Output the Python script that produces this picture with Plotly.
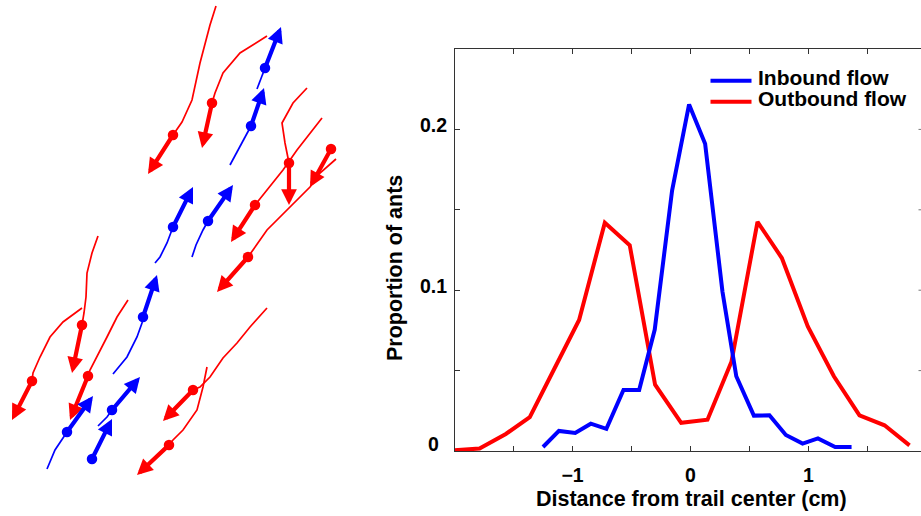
import plotly.graph_objects as go

# ---------------- right panel data: distribution across trail ----------------
inbound_x = [-1.25, -1.115, -0.977, -0.845, -0.713, -0.568, -0.435, -0.303, -0.156, -0.012,
             0.124, 0.271, 0.388, 0.537, 0.669, 0.808, 0.950, 1.080, 1.226, 1.365]
inbound_y = [0.0025, 0.0125, 0.0112, 0.0170, 0.0138, 0.0380, 0.0380, 0.0755, 0.1620, 0.2155,
             0.1910, 0.0990, 0.0465, 0.0220, 0.0222, 0.0100, 0.0046, 0.0078, 0.0025, 0.0025]

outbound_x = [-2.0, -1.788, -1.565, -1.362, -1.155, -0.944, -0.726, -0.515, -0.300, -0.079,
              0.144, 0.347, 0.568, 0.774, 0.994, 1.215, 1.432, 1.644, 1.856]
outbound_y = [0.0005, 0.0015, 0.0106, 0.0210, 0.0510, 0.0815, 0.1420, 0.1280, 0.0412, 0.0175,
              0.0195, 0.0555, 0.1425, 0.1200, 0.0775, 0.0465, 0.0222, 0.0160, 0.0035]

x_tickvals = [-1.5, -1, -0.5, 0, 0.5, 1, 1.5]
x_ticktext = ["", "\u22121", "", "0", "", "1", ""]
y_tickvals = [0, 0.05, 0.1, 0.15, 0.2]
y_ticktext = ["0", "", "0.1", "", "0.2"]

# ---------------- left panel data: ant tracks (arena frame) ----------------
# outbound ants (red): thin trail ending at body position (dot), velocity tip (arrow)
red_trail_x = [[216, 210, 200, 192, 182, 173], [267, 240, 223, 215, 212], [307, 293, 282, 285, 289],
               [322, 310, 297, 283, 267, 255], [331], [336, 320, 310, 300, 290, 267, 253, 248],
               [98, 92, 87, 86, 84, 82], [82, 63, 50, 40, 33, 32], [128, 117, 107, 97, 90, 88],
               [267, 250, 237, 223, 210, 200, 193], [207, 203, 197, 183, 173, 169]]
red_trail_y = [[6, 25, 63, 100, 122, 135], [36, 53, 73, 93, 103], [88, 103, 123, 143, 163],
               [118, 133, 150, 170, 190, 205], [149], [159, 173, 187, 197, 207, 230, 250, 257],
               [236, 253, 273, 297, 313, 325], [308, 322, 337, 357, 373, 381], [300, 317, 337, 357, 370, 376],
               [308, 327, 343, 358, 377, 387, 390], [367, 387, 410, 430, 440, 445]]
red_tip_x = [148, 202, 289, 231, 310, 217, 72, 12, 70, 163, 137]
red_tip_y = [174, 148, 205, 242, 187, 292, 373, 420, 420, 421, 475]

# inbound ants (blue)
blue_trail_x = [[257, 262, 265], [230, 240, 247, 251], [155, 160, 167, 173], [192, 196, 203, 208],
                [113, 127, 137, 142, 143], [47, 55, 63, 67], [98, 107, 112], [92]]
blue_trail_y = [[89, 77, 68], [165, 147, 133, 126], [263, 257, 243, 227], [257, 245, 230, 221],
                [374, 357, 337, 323, 317], [469, 450, 438, 432], [426, 417, 410], [459]]
blue_tip_x = [281, 264, 193, 233, 157, 93, 140, 112]
blue_tip_y = [27, 88, 187, 185, 275, 396, 377, 419]

RED = "#ff0000"
BLUE = "#0000ff"
FONT = "Liberation Sans"
W, H = 921, 516

fig = go.Figure()
annotations = []


def add_tracks(tx, ty, tipx, tipy, color):
    for xs, ys, x1, y1 in zip(tx, ty, tipx, tipy):
        if len(xs) > 1:
            fig.add_trace(go.Scatter(x=xs, y=ys, mode="lines", xaxis="x2", yaxis="y2",
                                     line=dict(color=color, width=1.7), hoverinfo="skip",
                                     showlegend=False))
        annotations.append(dict(x=x1, y=y1, ax=xs[-1], ay=ys[-1], xref="x2", yref="y2",
                                axref="x2", ayref="y2", text="", showarrow=True,
                                arrowhead=2, arrowsize=0.75, arrowwidth=4.2,
                                arrowcolor=color, standoff=0, startstandoff=0))
        fig.add_trace(go.Scatter(x=[xs[-1]], y=[ys[-1]], mode="markers", xaxis="x2", yaxis="y2",
                                 marker=dict(color=color, size=10.5), hoverinfo="skip",
                                 showlegend=False))


add_tracks(red_trail_x, red_trail_y, red_tip_x, red_tip_y, RED)
add_tracks(blue_trail_x, blue_trail_y, blue_tip_x, blue_tip_y, BLUE)

# right panel curves
fig.add_trace(go.Scatter(x=outbound_x, y=outbound_y, mode="lines", name="Outbound flow",
                         line=dict(color=RED, width=4), xaxis="x", yaxis="y"))
fig.add_trace(go.Scatter(x=inbound_x, y=inbound_y, mode="lines", name="Inbound flow",
                         line=dict(color=BLUE, width=4), xaxis="x", yaxis="y"))

# plot area geometry (pixels)
left_px, right_px, top_px, bottom_px = 454.5, 921, 49, 451
px_per_unit = 118.0
x_max = -2 + (right_px - left_px) / px_per_unit

AX = "#333333"
TXT = dict(family=FONT, color="black", weight="bold")
shapes = []
# legend line samples + labels
legend_items = [("Inbound flow", BLUE, 80.7), ("Outbound flow", RED, 101.7)]
for label, col, ypx in legend_items:
    shapes.append(dict(type="line", xref="paper", yref="paper",
                       x0=710.5 / W, x1=751.5 / W, y0=1 - ypx / H, y1=1 - ypx / H,
                       line=dict(color=col, width=4)))
    annotations.append(dict(x=755.5 / W, y=1 - (ypx - 3.2) / H, xref="paper", yref="paper",
                            xanchor="left", yanchor="middle", text=label, showarrow=False,
                            font=dict(size=21, **TXT)))
# tiny mirrored ticks at right edge (axis lies just beyond the window)
for v in y_tickvals[1:]:
    shapes.append(dict(type="line", xref="paper", yref="y", x0=918.5 / W, x1=1.0, y0=v, y1=v,
                       line=dict(color="#777777", width=1)))

# y tick labels (centred, as in the reference)
for v, t in zip(y_tickvals, y_ticktext):
    if t:
        annotations.append(dict(x=433 / W, y=v, xref="paper", yref="y", text=t,
                                showarrow=False, xanchor="center", yanchor="middle",
                                yshift=7 if v == 0 else 4.5,
                                font=dict(size=19.5, **TXT)))

# axis titles
annotations.append(dict(x=691 / W, y=1 - 498.5 / H, xref="paper", yref="paper",
                        text="Distance from trail center (cm)", showarrow=False,
                        xanchor="center", yanchor="middle", font=dict(size=21.5, **TXT)))
annotations.append(dict(x=395 / W, y=1 - 268 / H, xref="paper", yref="paper",
                        text="Proportion of ants", showarrow=False, textangle=-90,
                        xanchor="center", yanchor="middle", font=dict(size=21.5, **TXT)))

fig.update_layout(
    width=W, height=H, margin=dict(l=0, r=0, t=0, b=0),
    paper_bgcolor="white", plot_bgcolor="white", showlegend=False,
    font=dict(family=FONT, color="black"),
    xaxis=dict(domain=[left_px / W, 1.0], range=[-2, x_max], tickvals=x_tickvals,
               ticktext=x_ticktext, ticks="inside", ticklen=5, tickcolor=AX, tickwidth=1,
               showline=True, linecolor=AX, linewidth=1, mirror="ticks", showgrid=False,
               zeroline=False, tickfont=dict(size=19.5, **TXT), ticklabelstandoff=7),
    yaxis=dict(domain=[1 - bottom_px / H, 1 - top_px / H], range=[0, 0.25],
               tickvals=y_tickvals, ticktext=[""] * len(y_tickvals), ticks="inside", ticklen=5,
               tickcolor=AX, tickwidth=1, showline=True, linecolor=AX, linewidth=1,
               showgrid=False, zeroline=False),
    xaxis2=dict(domain=[0, 370 / W], range=[0, 370], visible=False, fixedrange=True),
    yaxis2=dict(domain=[0, 1], range=[516, 0], visible=False, fixedrange=True),
    shapes=shapes, annotations=annotations,
)

fig.write_html("out.html")
